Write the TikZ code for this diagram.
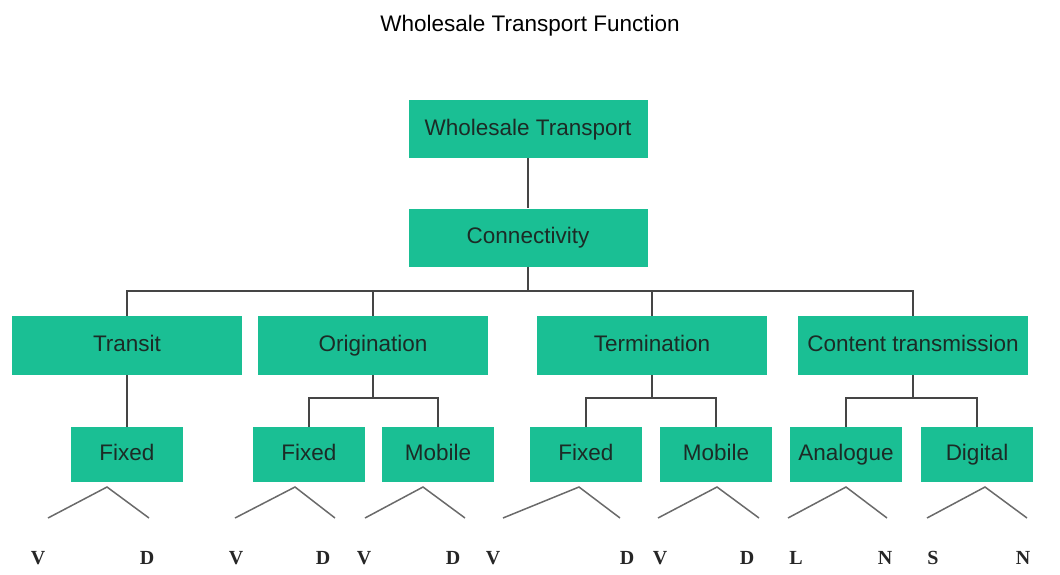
\documentclass[tikz,border=0pt]{standalone}
\usepackage{fontspec}
\setmainfont{Liberation Sans}
\newfontfamily\letterfont{Liberation Serif}
\usetikzlibrary{positioning}
\definecolor{boxgreen}{HTML}{1ABF94}
\definecolor{linegrey}{HTML}{454545}
\definecolor{textdark}{HTML}{1C2B26}

\begin{document}
\begin{tikzpicture}[
    x=1pt, y=-1pt,
    font=\fontsize{22.5}{24}\selectfont,
    box/.style={fill=boxgreen, text=textdark, inner sep=0pt, align=center,
      text height=16pt, text depth=4pt,
      minimum width=239pt, minimum height=58pt},
    topbox/.style={box, minimum width=230pt, minimum height=59pt},
    leaf/.style={box, minimum width=112pt, minimum height=55pt},
    link/.style={draw=linegrey, line width=1.7pt},
    branch/.style={draw=linegrey!80, line width=1.5pt},
    letter/.style={font=\letterfont\bfseries\fontsize{20}{22}\selectfont, text=black!85}
  ]
    \useasboundingbox (0,0) rectangle (1060,574);

    \node (title) at (530,26) {Wholesale Transport Function};

    \node[box] (wholesale) at (528,129) {Wholesale Transport};
    \node[box] (conn) at (528,237.5) {Connectivity};

    \node[topbox] (transit) at (127,345.5) {Transit};
    \node[topbox] (orig) at (373,345.5) {Origination};
    \node[topbox] (term) at (652,345.5) {Termination};
    \node[topbox] (content) at (913,345.5) {Content transmission};

    \node[leaf] (tfixed) at (127,454.5) {Fixed};
    \node[leaf] (ofixed) at (309,454.5) {Fixed};
    \node[leaf] (omobile) at (438,454.5) {Mobile};
    \node[leaf] (efixed) at (586,454.5) {Fixed};
    \node[leaf] (emobile) at (716,454.5) {Mobile};
    \node[leaf] (analogue) at (846,454.5) {Analogue};
    \node[leaf] (digital) at (977,454.5) {Digital};

    % bus points
    \coordinate (bus) at (528,291);
    \coordinate (obus) at (373,398);
    \coordinate (ebus) at (652,398);
    \coordinate (cbus) at (913,398);

    \draw[link] (wholesale) -- (conn);
    \draw[link] (conn) -- (bus);
    \draw[link] (transit) |- (bus) -| (content);
    \draw[link] (orig) -- (orig |- bus);
    \draw[link] (term) -- (term |- bus);

    \draw[link] (transit) -- (tfixed);
    \draw[link] (orig) -- (obus);
    \draw[link] (ofixed) |- (obus) -| (omobile);
    \draw[link] (term) -- (ebus);
    \draw[link] (efixed) |- (ebus) -| (emobile);
    \draw[link] (content) -- (cbus);
    \draw[link] (analogue) |- (cbus) -| (digital);

    % branches under the leaves
    \foreach \name/\apex/\lft/\rgt in {tfixed/107/48/149, ofixed/295/235/335,
        omobile/423/365/465, efixed/579/503/620, emobile/717/658/759,
        analogue/846/788/887, digital/985/927/1027} {
      \coordinate (\name-a) at (\apex,487);
      \coordinate (\name-l) at (\lft,518);
      \coordinate (\name-r) at (\rgt,518);
      \draw[branch] (\name-l) -- (\name-a) -- (\name-r);
    }

    \node[letter] (v1) at (38,558) {V};
    \node[letter] (d1) at (147,558) {D};
    \node[letter] (v2) at (236,558) {V};
    \node[letter] (d2) at (323,558) {D};
    \node[letter] (v3) at (364,558) {V};
    \node[letter] (d3) at (453,558) {D};
    \node[letter] (v4) at (493,558) {V};
    \node[letter] (d4) at (627,558) {D};
    \node[letter] (v5) at (660,558) {V};
    \node[letter] (d5) at (747,558) {D};
    \node[letter] (l6) at (796,558) {L};
    \node[letter] (n6) at (885,558) {N};
    \node[letter] (s7) at (933,558) {S};
    \node[letter] (n7) at (1023,558) {N};
  \end{tikzpicture}
\end{document}
